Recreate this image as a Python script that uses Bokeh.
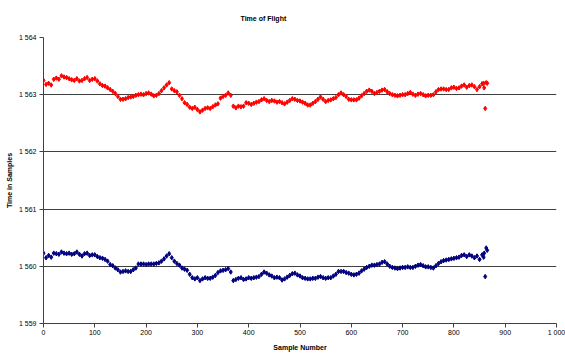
from bokeh.plotting import figure
from bokeh.models import FixedTicker
from bokeh.embed import file_html
from bokeh.resources import INLINE

title_text = "Time of Flight"
x_title = "Sample Number"
y_title = "Time in Samples"

x_ticks = [0, 100, 200, 300, 400, 500, 600, 700, 800, 900, 1000]
x_tick_labels = ["0", "100", "200", "300", "400", "500", "600", "700", "800", "900", "1 000"]
y_ticks = [1559, 1560, 1561, 1562, 1563, 1564]
y_tick_labels = ["1 559", "1 560", "1 561", "1 562", "1 563", "1 564"]

# samples 0..855 every 5, then the tail samples
main_samples = list(range(0, 856, 5))
tail_samples = [858, 859, 861, 863, 865]
samples = main_samples + tail_samples

series_upper = [
    1563.25, 1563.18, 1563.20, 1563.17, 1563.27, 1563.29, 1563.27, 1563.33, 1563.31, 1563.30,
    1563.28, 1563.26, 1563.25, 1563.28, 1563.24, 1563.25, 1563.28, 1563.30, 1563.25, 1563.27,
    1563.28, 1563.24, 1563.19, 1563.16, 1563.15, 1563.12, 1563.09, 1563.06, 1563.02, 1562.97,
    1562.92, 1562.92, 1562.93, 1562.95, 1562.96, 1562.97, 1562.99, 1563.00, 1563.01, 1563.00,
    1563.02, 1563.03, 1563.01, 1562.98, 1562.99, 1563.02, 1563.07, 1563.12, 1563.17, 1563.21,
    1563.10, 1563.07, 1563.05, 1562.99, 1562.93, 1562.86, 1562.83, 1562.78, 1562.76, 1562.78,
    1562.74, 1562.70, 1562.73, 1562.76, 1562.77, 1562.76, 1562.79, 1562.82, 1562.84, 1562.94,
    1562.97, 1562.99, 1563.03, 1562.99, 1562.80, 1562.77, 1562.80, 1562.79, 1562.80, 1562.86,
    1562.85, 1562.83, 1562.85, 1562.87, 1562.88, 1562.91, 1562.93, 1562.90, 1562.88, 1562.90,
    1562.89, 1562.87, 1562.88, 1562.86, 1562.84, 1562.87, 1562.90, 1562.93, 1562.92, 1562.90,
    1562.89, 1562.87, 1562.85, 1562.82, 1562.82, 1562.85, 1562.88, 1562.92, 1562.96, 1562.92,
    1562.88, 1562.90, 1562.91, 1562.93, 1562.95, 1563.00, 1563.03, 1563.00, 1562.97, 1562.92,
    1562.91, 1562.91, 1562.91, 1562.94, 1562.98, 1563.02, 1563.06, 1563.08, 1563.06, 1563.02,
    1563.04, 1563.06, 1563.08, 1563.09, 1563.05, 1563.02, 1563.00, 1562.99, 1562.98, 1562.99,
    1563.00, 1563.00, 1563.02, 1563.04, 1563.01, 1562.99, 1563.01, 1563.02, 1563.00, 1562.98,
    1562.99, 1562.99, 1563.00, 1563.05, 1563.09, 1563.10, 1563.10, 1563.09, 1563.09, 1563.12,
    1563.13, 1563.11, 1563.12, 1563.15, 1563.17, 1563.13, 1563.16, 1563.17, 1563.14, 1563.09,
    1563.14, 1563.19,
    1563.20, 1563.12, 1562.76, 1563.21, 1563.20,
]

series_lower = [
    1560.23, 1560.15, 1560.19, 1560.16, 1560.23, 1560.22, 1560.21, 1560.25, 1560.23, 1560.22,
    1560.23, 1560.21, 1560.22, 1560.25, 1560.21, 1560.18, 1560.22, 1560.23, 1560.19, 1560.20,
    1560.20, 1560.17, 1560.15, 1560.14, 1560.12, 1560.09, 1560.03, 1560.01, 1559.97, 1559.94,
    1559.90, 1559.91, 1559.92, 1559.91, 1559.91, 1559.94, 1559.97, 1560.04, 1560.04, 1560.04,
    1560.03, 1560.04, 1560.04, 1560.04, 1560.05, 1560.06, 1560.09, 1560.13, 1560.18, 1560.22,
    1560.15, 1560.09, 1560.05, 1560.02, 1559.97, 1559.95, 1559.93, 1559.86, 1559.80, 1559.78,
    1559.80, 1559.75, 1559.78, 1559.80, 1559.79, 1559.79, 1559.81, 1559.84, 1559.89, 1559.92,
    1559.93, 1559.94, 1559.96, 1559.90, 1559.75, 1559.77, 1559.79, 1559.80, 1559.77, 1559.78,
    1559.80, 1559.79, 1559.80, 1559.81, 1559.82, 1559.86, 1559.90, 1559.88, 1559.85, 1559.83,
    1559.80, 1559.81, 1559.80, 1559.76, 1559.78, 1559.81, 1559.84, 1559.87, 1559.88, 1559.85,
    1559.83, 1559.80, 1559.79, 1559.78, 1559.78, 1559.79, 1559.79, 1559.81, 1559.82, 1559.80,
    1559.79, 1559.80, 1559.80, 1559.83, 1559.86, 1559.91, 1559.91, 1559.91, 1559.89, 1559.88,
    1559.86, 1559.85, 1559.86, 1559.88, 1559.92, 1559.95, 1559.98, 1560.00, 1560.02, 1560.02,
    1560.03, 1560.04, 1560.07, 1560.08, 1560.04, 1560.00, 1559.98, 1559.97, 1559.96, 1559.97,
    1559.98, 1559.98, 1559.99, 1559.98, 1559.98, 1560.00, 1560.02, 1560.03, 1560.01, 1559.99,
    1559.99, 1559.98, 1559.97, 1560.01, 1560.05, 1560.08, 1560.10, 1560.11, 1560.12, 1560.13,
    1560.14, 1560.15, 1560.16, 1560.19, 1560.20, 1560.17, 1560.20, 1560.18, 1560.15, 1560.18,
    1560.12, 1560.20,
    1560.16, 1560.23, 1559.82, 1560.32, 1560.28,
]

FONT = "Liberation Sans"
AX = "#404040"

p = figure(width=565, height=354, output_backend="svg", toolbar_location=None,
           x_range=(0, 1000), y_range=(1559, 1564),
           min_border_left=43, min_border_right=9, min_border_top=37, min_border_bottom=31,
           background_fill_color="white", border_fill_color="white")
p.outline_line_color = None

p.title.text = title_text
p.title.text_font = FONT
p.title.text_font_size = "7px"
p.title.text_font_style = "bold"
p.title.text_color = "black"
p.title.align = "left"
p.title.offset = 197
p.title.vertical_align = "top"
p.title.standoff = 28

p.xgrid.grid_line_color = None
p.ygrid.grid_line_color = AX
p.ygrid.grid_line_width = 1
p.ygrid.ticker = FixedTicker(ticks=y_ticks)

p.xaxis.ticker = FixedTicker(ticks=x_ticks)
p.yaxis.ticker = FixedTicker(ticks=y_ticks)
p.xaxis.major_label_overrides = {t: l for t, l in zip(x_ticks, x_tick_labels)}
p.yaxis.major_label_overrides = {t: l for t, l in zip(y_ticks, y_tick_labels)}

for ax in (p.xaxis, p.yaxis):
    ax.axis_line_color = AX
    ax.major_tick_line_color = AX
    ax.major_tick_out = 4
    ax.major_tick_in = 0
    ax.minor_tick_line_color = None
    ax.major_label_text_font = FONT
    ax.major_label_text_font_size = "7px"
    ax.major_label_text_color = "black"
    ax.axis_label_text_font = FONT
    ax.axis_label_text_font_size = "7px"
    ax.axis_label_text_font_style = "bold"
    ax.axis_label_text_color = "black"

p.xaxis.axis_label = x_title
p.yaxis.axis_label = y_title
p.xaxis.major_label_standoff = 1
p.xaxis.axis_label_standoff = 5
p.yaxis.major_label_standoff = 3
p.yaxis.axis_label_standoff = 3

p.scatter(samples, series_upper, marker="diamond", size=4.5, color="#FF0000")
p.scatter(samples, series_lower, marker="diamond", size=4.5, color="#000080")

open("out.html", "w").write(file_html(p, INLINE))
